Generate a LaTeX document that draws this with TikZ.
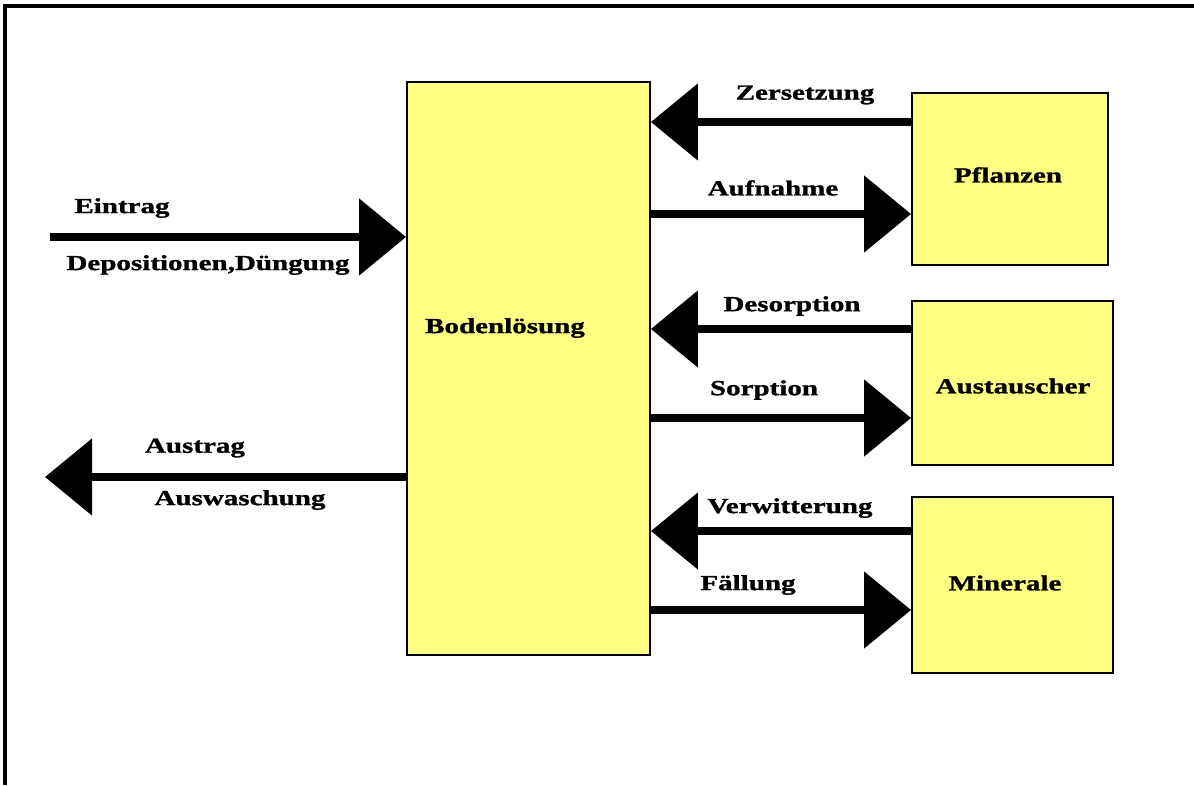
\documentclass[tikz,border=0pt]{standalone}
\usepackage{fontspec}
\setmainfont{Liberation Serif}[FakeStretch=1.35, BoldFeatures={FakeBold=1.2}]
\usetikzlibrary{arrows.meta}
\definecolor{boxyellow}{HTML}{FFFF84}
\tikzset{
  box/.style={draw=black, line width=1.8pt, fill=boxyellow, inner sep=0pt},
  lbl/.style={font=\fontsize{21.5}{24}\selectfont\bfseries, inner sep=0pt},
  flow/.style={line width=8.5pt, -{Triangle[width=75pt,length=47pt]}},
}
\begin{document}
\begin{tikzpicture}[x=1pt,y=-1pt]
\useasboundingbox (0,0) rectangle (1194,785);
% frame
\draw[line width=4pt] (5,785) -- (5,6) -- (1194,6);
% boxes
\node[box, minimum width=243pt, minimum height=573pt] (b) at (528.5,368.5) {};
\node[lbl] (bt) at (505,328) {Bodenlösung};
\node[box, minimum width=196pt, minimum height=172pt] (p) at (1010,179) {};
\node[lbl] (pt) at (1008,175) {Pflanzen};
\node[box, minimum width=201pt, minimum height=164pt] (a) at (1012.5,383) {};
\node[lbl] (at) at (1013,386) {Austauscher};
\node[box, minimum width=201pt, minimum height=176pt] (m) at (1012.5,585) {};
\node[lbl] (mt) at (1005,583) {Minerale};
% external ends
\coordinate (ein) at (50,237);
\coordinate (aus) at (45,477);
% arrows
\draw[flow] (ein) -- (b.west |- ein);
\draw[flow] (b.west |- aus) -- (aus);
\draw[flow] (p.west |- 0,122) -- (b.east |- 0,122);
\draw[flow] (b.east |- 0,214) -- (p.west |- 0,214);
\draw[flow] (a.west |- 0,329) -- (b.east |- 0,329);
\draw[flow] (b.east |- 0,418) -- (a.west |- 0,418);
\draw[flow] (m.west |- 0,531) -- (b.east |- 0,531);
\draw[flow] (b.east |- 0,610) -- (m.west |- 0,610);
% labels
\node[lbl] (l1) at (122,208) {Eintrag};
\node[lbl] (l2) at (208,265) {Depositionen,Düngung};
\node[lbl] (l3) at (195,448) {Austrag};
\node[lbl] (l4) at (240,500) {Auswaschung};
\node[lbl] (l5) at (805,95) {Zersetzung};
\node[lbl] (l6) at (773,188) {Aufnahme};
\node[lbl] (l7) at (792,306) {Desorption};
\node[lbl] (l8) at (764,390) {Sorption};
\node[lbl] (l9) at (790,508) {Verwitterung};
\node[lbl] (l10) at (748,585) {Fällung};
\end{tikzpicture}
\end{document}
